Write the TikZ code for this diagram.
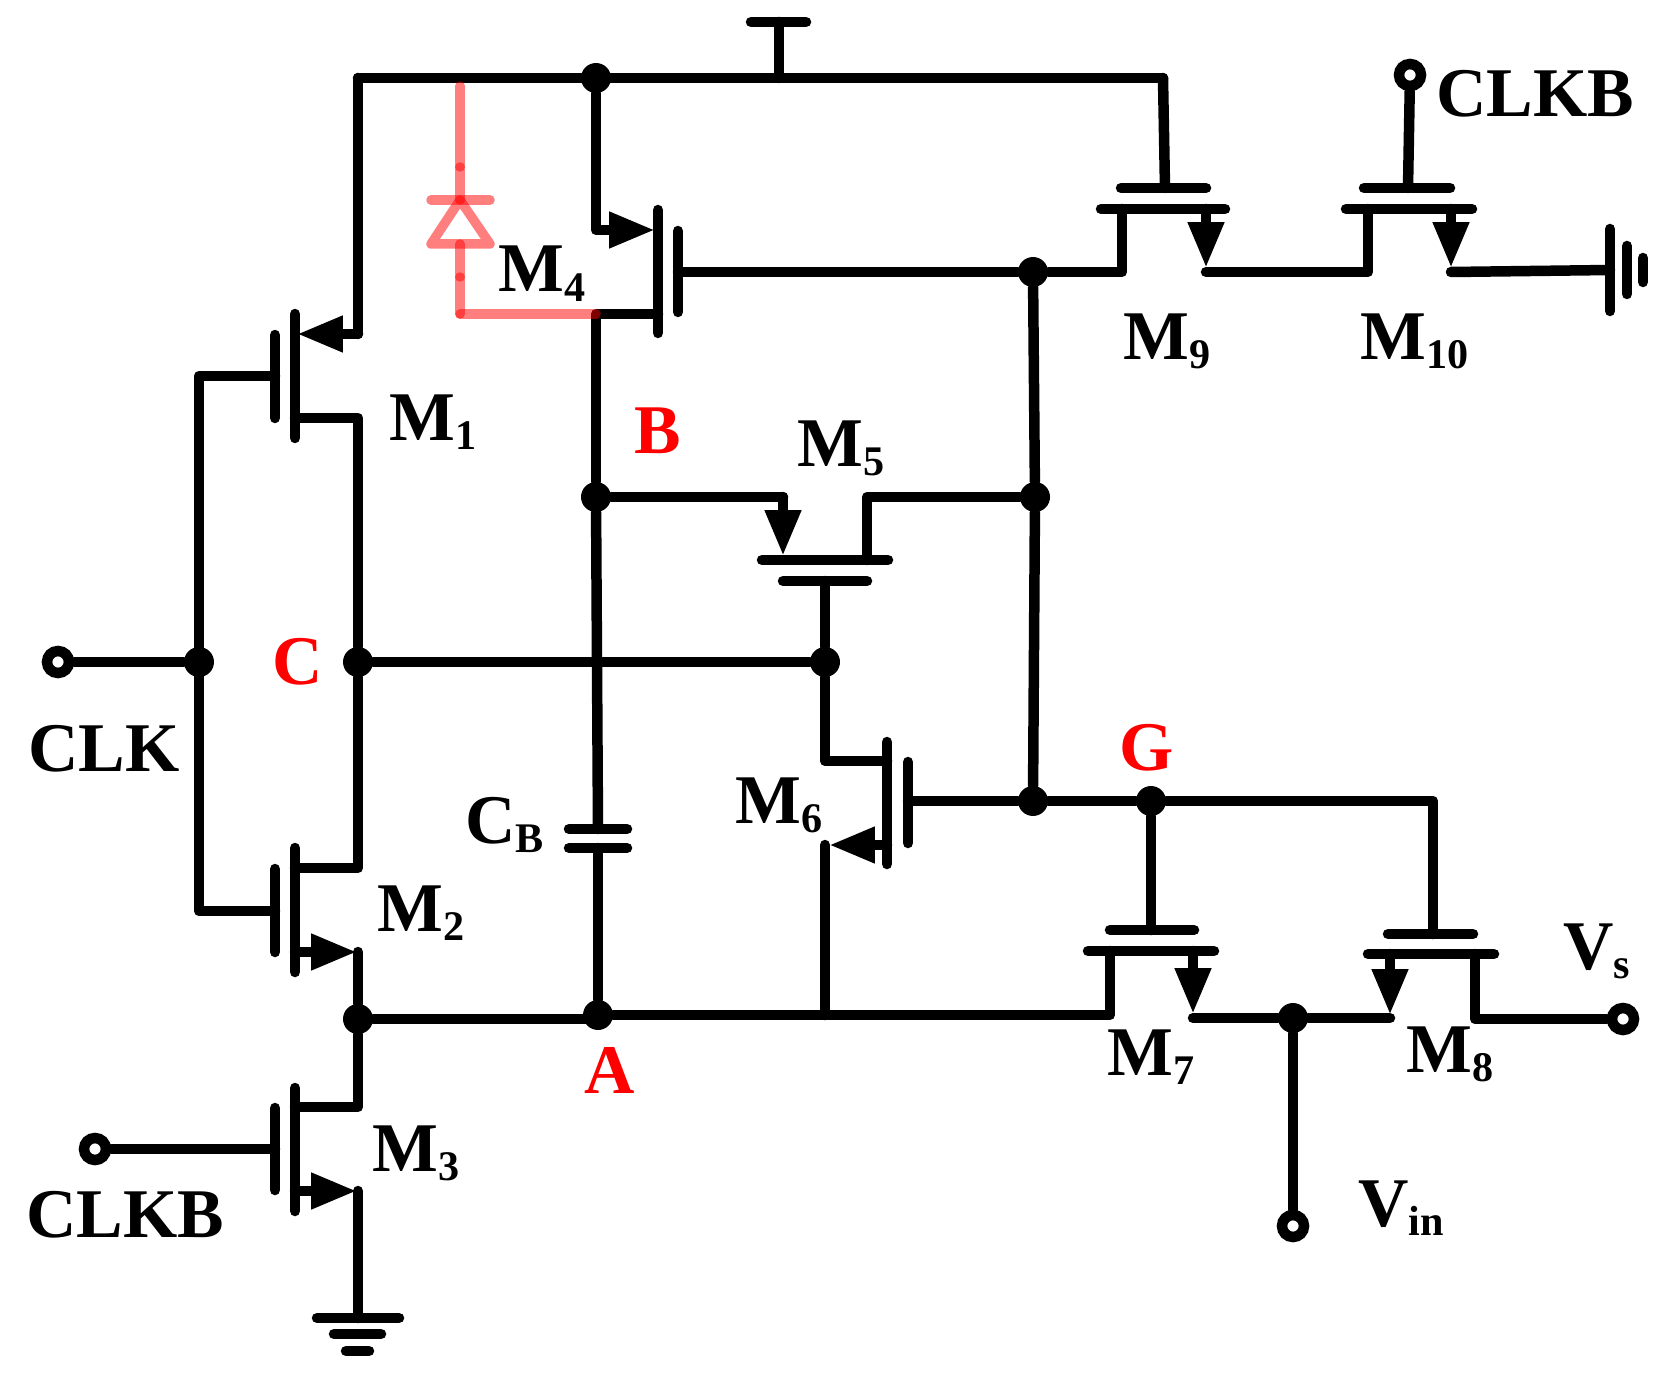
\documentclass[tikz,border=0pt]{standalone}
\usepackage{fontspec}
\setmainfont{Liberation Serif}
\usetikzlibrary{arrows.meta, positioning}
\definecolor{nodered}{RGB}{255, 0, 0}
\newcommand{\lsub}[1]{\raisebox{-5.6pt}{\fontsize{24}{24}\selectfont #1}}
\tikzset{
  wire/.style={line width=0.21cm, line cap=round, line join=round},
  srcarrow/.style={wire, -{Triangle[length=0.92cm, width=0.68cm]}},
  diodeline/.style={line width=0.19cm, line cap=round, line join=round, draw=nodered, opacity=0.5},
  junction/.style={circle, fill=black, inner sep=0pt, minimum size=0.6cm},
  terminal/.style={circle, draw=black, fill=white, line width=0.21cm, inner sep=0pt, minimum size=0.44cm},
  devlabel/.style={anchor=base west, inner sep=0pt, font=\fontsize{39.7}{39.7}\selectfont\bfseries},
  netlabel/.style={devlabel, text=nodered}
}

\begin{document}
\begin{tikzpicture}[x=0.02cm, y=-0.02cm]
  \useasboundingbox (0,0) rectangle (1678,1375);

  % Junctions and terminals
  \node[junction] (topdot) at (596,78) {};
  \node[junction] (dotb) at (596,497) {};
  \node[junction] (dota) at (598,1015) {};
  \node[junction] (dotl) at (358,1019) {};
  \node[junction] (dotclk) at (199,662) {};
  \node[junction] (dotc) at (358,662) {};
  \node[junction] (dotm5g) at (825,662) {};
  \node[junction] (dotm9g) at (1033,272) {};
  \node[junction] (dotm5d) at (1035,497) {};
  \node[junction] (dotm6g) at (1033,801) {};
  \node[junction] (dotg) at (1151,801) {};
  \node[junction] (dotvin) at (1293,1018) {};
  \node[terminal] (clk) at (58,662) {};
  \node[terminal] (clkbl) at (95,1149) {};
  \node[terminal] (clkbr) at (1410,75) {};
  \node[terminal] (vs) at (1623,1019) {};
  \node[terminal] (vin) at (1293,1226) {};

  % Supply rail
  \coordinate (railleft) at (358,78);
  \coordinate (railright) at (1163,78);
  \coordinate (vddstem) at (779,78);
  \coordinate (vddtop) at (779,22);
  \coordinate (vddl) at (751,22);
  \coordinate (vddr) at (806,22);
  \draw[wire] (railleft) -- (railright);
  \draw[wire] (vddstem) -- (vddtop);
  \draw[wire] (vddl) -- (vddr);

  % M1
  \coordinate (m1cht) at (295,314);
  \coordinate (m1chb) at (295,438);
  \coordinate (m1gt) at (275,335);
  \coordinate (m1gb) at (275,418);
  \coordinate (m1g) at (275,376);
  \coordinate (m1s) at (358,334);
  \coordinate (m1tip) at (297,334);
  \coordinate (m1dch) at (295,418);
  \coordinate (m1d) at (358,418);
  \draw[wire] (m1cht) -- (m1chb);
  \draw[wire] (m1gt) -- (m1gb);
  \draw[wire] (railleft) -- (m1s);
  \draw[srcarrow] (m1s) -- (m1tip);
  \draw[wire] (m1dch) -- (m1d) -- (dotc);

  % M2
  \coordinate (m2cht) at (295,848);
  \coordinate (m2chb) at (295,972);
  \coordinate (m2gt) at (275,869);
  \coordinate (m2gb) at (275,952);
  \coordinate (m2g) at (275,911);
  \coordinate (m2dch) at (295,868);
  \coordinate (m2d) at (358,868);
  \coordinate (m2sch) at (295,952);
  \coordinate (m2tip) at (357,952);
  \coordinate (m2s) at (358,952);
  \draw[wire] (m2cht) -- (m2chb);
  \draw[wire] (m2gt) -- (m2gb);
  \draw[wire] (dotc) -- (m2d) -- (m2dch);
  \draw[srcarrow] (m2sch) -- (m2tip);
  \draw[wire] (m2s) -- (dotl);

  % M3
  \coordinate (m3cht) at (295,1088);
  \coordinate (m3chb) at (295,1211);
  \coordinate (m3gt) at (275,1108);
  \coordinate (m3gb) at (275,1190);
  \coordinate (m3g) at (275,1149);
  \coordinate (m3dch) at (295,1107);
  \coordinate (m3d) at (358,1107);
  \coordinate (m3sch) at (295,1191);
  \coordinate (m3tip) at (357,1191);
  \coordinate (m3s) at (358,1191);
  \draw[wire] (m3cht) -- (m3chb);
  \draw[wire] (m3gt) -- (m3gb);
  \draw[wire] (dotl) -- (m3d) -- (m3dch);
  \draw[srcarrow] (m3sch) -- (m3tip);
  \draw[wire] (clkbl) -- (m3g);

  % Clock input
  \coordinate (clktop) at (199,376);
  \coordinate (clkbot) at (199,911);
  \draw[wire] (clk) -- (dotclk);
  \draw[wire] (m1g) -- (clktop) -- (clkbot) -- (m2g);

  % Bottom ground
  \coordinate (gnda) at (358,1318);
  \coordinate (gndal) at (317,1318);
  \coordinate (gndar) at (399,1318);
  \coordinate (gndbl) at (334,1334);
  \coordinate (gndbr) at (381,1334);
  \coordinate (gndcl) at (346,1351);
  \coordinate (gndcr) at (369,1351);
  \draw[wire] (m3s) -- (gnda);
  \draw[wire] (gndal) -- (gndar);
  \draw[wire] (gndbl) -- (gndbr);
  \draw[wire] (gndcl) -- (gndcr);

  % M4
  \coordinate (m4cht) at (658,210);
  \coordinate (m4chb) at (658,333);
  \coordinate (m4gt) at (678,231);
  \coordinate (m4gb) at (678,312);
  \coordinate (m4g) at (678,272);
  \coordinate (m4tip) at (655,230);
  \coordinate (m4dch) at (658,314);
  \coordinate (m4d) at (596,314);
  \draw[wire] (m4cht) -- (m4chb);
  \draw[wire] (m4gt) -- (m4gb);
  \draw[srcarrow] (topdot) |- (m4tip);
  \draw[wire] (m4dch) -- (m4d) -- (dotb);
  \draw[wire] (m4g) -- (dotm9g);

  % Capacitor and node A
  \coordinate (cbt) at (598,829);
  \coordinate (cbb) at (598,848);
  \coordinate (cbtl) at (569,829);
  \coordinate (cbtr) at (627,829);
  \coordinate (cbbl) at (569,848);
  \coordinate (cbbr) at (627,848);
  \coordinate (railaleft) at (598,1019);
  \draw[wire] (dotb) -- (cbt);
  \draw[wire] (cbtl) -- (cbtr);
  \draw[wire] (cbbl) -- (cbbr);
  \draw[wire] (cbb) -- (dota);
  \draw[wire] (dotl) -- (railaleft);

  % M5
  \coordinate (m5chl) at (762,560);
  \coordinate (m5chr) at (888,560);
  \coordinate (m5gl) at (783,581);
  \coordinate (m5gr) at (867,581);
  \coordinate (m5g) at (825,581);
  \coordinate (m5s) at (783,497);
  \coordinate (m5tip) at (783,556);
  \coordinate (m5dch) at (867,560);
  \coordinate (m5d) at (867,497);
  \draw[wire] (m5chl) -- (m5chr);
  \draw[wire] (m5gl) -- (m5gr);
  \draw[wire] (m5g) -- (dotm5g);
  \draw[wire] (dotb) -- (m5s);
  \draw[srcarrow] (m5s) -- (m5tip);
  \draw[wire] (m5dch) -- (m5d) -- (dotm5d);
  \draw[wire] (dotc) -- (dotm5g);

  % M6
  \coordinate (m6cht) at (887,742);
  \coordinate (m6chb) at (887,864);
  \coordinate (m6gt) at (908,762);
  \coordinate (m6gb) at (908,843);
  \coordinate (m6g) at (908,801);
  \coordinate (m6dl) at (825,761);
  \coordinate (m6dch) at (887,761);
  \coordinate (m6sch) at (887,845);
  \coordinate (m6tip) at (829,845);
  \coordinate (m6s) at (825,845);
  \coordinate (m6sb) at (825,1015);
  \draw[wire] (m6cht) -- (m6chb);
  \draw[wire] (m6gt) -- (m6gb);
  \draw[wire] (dotm5g) -- (m6dl) -- (m6dch);
  \draw[srcarrow] (m6sch) -- (m6tip);
  \draw[wire] (m6s) -- (m6sb);
  \draw[wire] (m6g) -- (dotm6g);

  % Column between gates
  \draw[wire] (dotm9g) -- (dotm5d);
  \draw[wire] (dotm5d) -- (dotm6g);
  \draw[wire] (dotm6g) -- (dotg);

  % M7
  \coordinate (m7gt) at (1151,930);
  \coordinate (m7gl) at (1110,930);
  \coordinate (m7gr) at (1194,930);
  \coordinate (m7chl) at (1088,951);
  \coordinate (m7chr) at (1214,951);
  \coordinate (m7dch) at (1110,951);
  \coordinate (m7d) at (1110,1015);
  \coordinate (m7sch) at (1193,951);
  \coordinate (m7tip) at (1197,1014);
  \coordinate (m7s) at (1197,1018);
  \draw[wire] (dotg) -- (m7gt);
  \draw[wire] (m7gl) -- (m7gr);
  \draw[wire] (m7chl) -- (m7chr);
  \draw[wire] (dota) -- (m7d) -- (m7dch);
  \draw[srcarrow] (m7sch |- m7chl) -- (m7sch |- m7tip);

  % M8
  \coordinate (m8gc) at (1433,801);
  \coordinate (m8gt) at (1433,934);
  \coordinate (m8gl) at (1388,934);
  \coordinate (m8gr) at (1473,934);
  \coordinate (m8chl) at (1368,954);
  \coordinate (m8chr) at (1494,954);
  \coordinate (m8dch) at (1475,954);
  \coordinate (m8d) at (1475,1019);
  \coordinate (m8sch) at (1390,954);
  \coordinate (m8tip) at (1390,1015);
  \coordinate (m8s) at (1390,1018);
  \draw[wire] (dotg) -- (m8gc) -- (m8gt);
  \draw[wire] (m8gl) -- (m8gr);
  \draw[wire] (m8chl) -- (m8chr);
  \draw[srcarrow] (m8sch) -- (m8tip);
  \draw[wire] (m7sch |- m7s) -- (dotvin) -- (m8s);
  \draw[wire] (m8dch) -- (m8d) -- (vs);
  \draw[wire] (dotvin) -- (vin);

  % M9
  \coordinate (m9gt) at (1165,188);
  \coordinate (m9gl) at (1121,188);
  \coordinate (m9gr) at (1206,188);
  \coordinate (m9chl) at (1101,209);
  \coordinate (m9chr) at (1225,209);
  \coordinate (m9dch) at (1122,209);
  \coordinate (m9d) at (1122,272);
  \coordinate (m9sch) at (1206,209);
  \coordinate (m9tip) at (1206,268);
  \coordinate (m9s) at (1206,272);
  \draw[wire] (railright) -- (m9gt);
  \draw[wire] (m9gl) -- (m9gr);
  \draw[wire] (m9chl) -- (m9chr);
  \draw[wire] (dotm9g) -- (m9d) -- (m9dch);
  \draw[srcarrow] (m9sch) -- (m9tip);

  % M10
  \coordinate (m10gt) at (1408,188);
  \coordinate (m10gl) at (1364,188);
  \coordinate (m10gr) at (1450,188);
  \coordinate (m10chl) at (1346,209);
  \coordinate (m10chr) at (1472,209);
  \coordinate (m10dch) at (1368,209);
  \coordinate (m10d) at (1368,272);
  \coordinate (m10sch) at (1451,209);
  \coordinate (m10tip) at (1451,268);
  \coordinate (m10s) at (1451,272);
  \draw[wire] (clkbr) -- (m10gt);
  \draw[wire] (m10gl) -- (m10gr);
  \draw[wire] (m10chl) -- (m10chr);
  \draw[wire] (m9s) -- (m10d) -- (m10dch);
  \draw[srcarrow] (m10sch) -- (m10tip);

  % Right ground
  \coordinate (gndr) at (1610,270);
  \coordinate (gndrat) at (1610,229);
  \coordinate (gndrab) at (1610,311);
  \coordinate (gndrbt) at (1627,246);
  \coordinate (gndrbb) at (1627,294);
  \coordinate (gndrct) at (1643,258);
  \coordinate (gndrcb) at (1643,282);
  \draw[wire] (m10s) -- (gndr);
  \draw[wire] (gndrat) -- (gndrab);
  \draw[wire] (gndrbt) -- (gndrbb);
  \draw[wire] (gndrct) -- (gndrcb);

  % Diode branch
  \coordinate (dka) at (460,86);
  \coordinate (dkb) at (460,167);
  \coordinate (dkc) at (460,200);
  \coordinate (dkl) at (431,200);
  \coordinate (dkr) at (490,200);
  \coordinate (dal) at (431,244);
  \coordinate (dar) at (490,244);
  \coordinate (dad) at (460,244);
  \coordinate (dae) at (460,277);
  \coordinate (daf) at (460,314);
  \draw[diodeline] (dka) -- (dkb);
  \draw[diodeline] (dkb) -- (dkc);
  \draw[diodeline] (dkl) -- (dkr);
  \draw[diodeline] (dkc) -- (dal) -- (dar) -- cycle;
  \draw[diodeline] (dad) -- (dae);
  \draw[diodeline] (dae) -- (daf);
  \draw[diodeline] (daf) -- (m4d);

  % Labels
  \node[devlabel] (lm1) at (389,440) {M\lsub{1}};
  \node[devlabel] (lm2) at (377,931) {M\lsub{2}};
  \node[devlabel] (lm3) at (372,1171) {M\lsub{3}};
  \node[devlabel] (lm4) at (498,292) {M\lsub{4}};
  \node[devlabel] (lm5) at (797,466) {M\lsub{5}};
  \node[devlabel] (lm6) at (735,823) {M\lsub{6}};
  \node[devlabel] (lm7) at (1107,1075) {M\lsub{7}};
  \node[devlabel] (lm8) at (1406,1072) {M\lsub{8}};
  \node[devlabel] (lm9) at (1123,359) {M\lsub{9}};
  \node[devlabel] (lm10) at (1360,359) {M\lsub{10}};
  \node[devlabel] (lcb) at (465,843) {C\lsub{B}};
  \node[devlabel] (lclk) at (28,771) {CLK};
  \node[devlabel] (lclkbl) at (26,1237) {CLKB};
  \node[devlabel] (lclkbr) at (1436,117) {CLKB};
  \node[devlabel] (lvs) at (1563,969) {V\lsub{s}};
  \node[devlabel] (lvin) at (1358,1226) {V\lsub{in}};
  \node[netlabel] (la) at (584,1093) {A};
  \node[netlabel] (lb) at (634,454) {B};
  \node[netlabel] (lc) at (272,684) {C};
  \node[netlabel] (lg) at (1119,770) {G};
\end{tikzpicture}
\end{document}
